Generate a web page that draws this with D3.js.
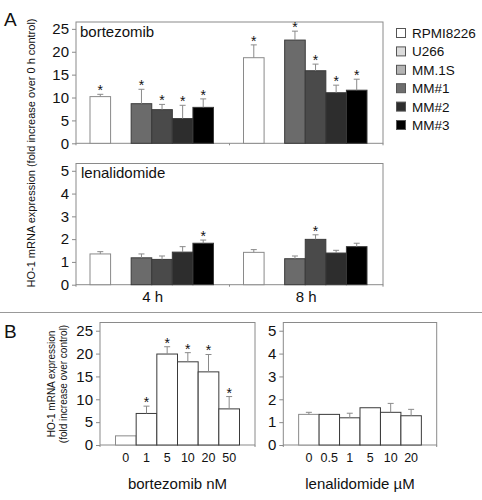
<!DOCTYPE html>
<html><head><meta charset="utf-8">
<script src="https://cdn.jsdelivr.net/npm/d3@7"></script>
<style>
body{margin:0;background:#fff;}
svg{display:block;font-family:"Liberation Sans",Arial,sans-serif;}
</style></head>
<body>
<svg id="chart" width="482" height="500"></svg>
<script>
// ---------- DATA ----------
const series = ["RPMI8226","U266","MM.1S","MM#1","MM#2","MM#3"];
const legendColors = ["#ffffff","#dcdcdc","#b4b4b4","#6e6e6e","#2e2e2e","#000000"];
const barColors = ["#ffffff","#dcdcdc","#6b6b6b","#4a4a4a","#2d2d2d","#000000"];
const timepoints = ["4 h","8 h"];

const bortMean4h = [10.2, null, 8.65, 7.35, 5.4, 7.85];
const bortErr4h  = [0.5, null, 3.15, 1.15, 2.9, 1.85];
const bortSig4h  = [1, 0, 1, 1, 1, 1];
const bortMean8h = [18.7, null, 22.55, 15.85, 11.05, 11.6];
const bortErr8h  = [2.8, null, 1.95, 1.45, 1.65, 2.4];
const bortSig8h  = [1, 0, 1, 1, 1, 1];

const lenMean4h = [1.35, null, 1.18, 1.11, 1.43, 1.82];
const lenErr4h  = [0.1, null, 0.17, 0.15, 0.24, 0.14];
const lenSig4h  = [0, 0, 0, 0, 0, 1];
const lenMean8h = [1.42, null, 1.14, 1.99, 1.39, 1.67];
const lenErr8h  = [0.12, null, 0.12, 0.2, 0.12, 0.15];
const lenSig8h  = [0, 0, 0, 1, 0, 0];

const bortDoses = ["0","1","5","10","20","50"];
const bortDoseMean = [2.0, 6.9, 19.9, 18.2, 16.0, 7.9];
const bortDoseErr  = [0, 1.6, 1.6, 2.0, 3.8, 2.7];
const bortDoseSig  = [0, 1, 1, 1, 1, 1];

const lenDoses = ["0","0.5","1","5","10","20"];
const lenDoseMean = [1.34, 1.34, 1.19, 1.63, 1.43, 1.28];
const lenDoseErr  = [0.09, 0, 0.2, 0, 0.39, 0.28];
const lenDoseSig  = [0, 0, 0, 0, 0, 0];

const ticks25 = [0,5,10,15,20,25];
const ticks5 = [0,1,2,3,4,5];

// ---------- DRAW ----------
const svg = d3.select("#chart");
const GREY = "#8a8a8a";
const TXT = "#111";

function yAxis(g, y, ticks, x, fs){
  const a = g.append("g").attr("transform",`translate(${x},0)`)
    .call(d3.axisLeft(y).tickValues(ticks).tickSize(4).tickPadding(3).tickFormat(d3.format("d")));
  a.select(".domain").remove();
  a.selectAll(".tick line").attr("stroke",GREY);
  a.selectAll(".tick text").attr("fill",TXT).style("font-size",fs+"px").style("font-family","inherit");
}

function box(g, x0, x1, yTop, yBase){
  g.append("rect").attr("x",x0).attr("y",yTop).attr("width",x1-x0).attr("height",yBase-yTop)
    .attr("fill","none").attr("stroke",GREY).attr("stroke-width",1);
}

function bars(g, data, xf, w, y, colors, starSize){
  data.forEach(d=>{
    if(d.v==null) return;
    const x = xf(d);
    g.append("rect").attr("x",x).attr("y",y(d.v)).attr("width",w).attr("height",y(0)-y(d.v))
      .attr("fill",colors[d.i]).attr("stroke",d.i===0||colors===null?GREY:"#3a3a3a").attr("stroke-width",1);
    const cx = x + w/2;
    let top = y(d.v);
    if(d.e>0){
      top = y(d.v+d.e);
      g.append("line").attr("x1",cx).attr("x2",cx).attr("y1",y(d.v)).attr("y2",top).attr("stroke",GREY);
      g.append("line").attr("x1",cx-3).attr("x2",cx+3).attr("y1",top).attr("y2",top).attr("stroke",GREY);
    }
    if(d.s){
      g.append("text").attr("x",cx).attr("y",top+1).attr("text-anchor","middle")
        .style("font-size",starSize+"px").attr("fill",TXT).text("*");
    }
  });
}

// ----- Panel A -----
const AX0 = 76, AX1 = 383;
const xA = d3.scaleBand().domain(timepoints).range([AX0, AX1]);
const xS = d3.scaleBand().domain(series).range([14, xA.bandwidth()-16]);

const yAt = d3.scaleLinear().domain([0,26.5]).range([143.3,22]);
const yAb = d3.scaleLinear().domain([0,5.32]).range([284.7,163.5]);

const gA = svg.append("g");
box(gA, AX0, AX1, yAt.range()[1], yAt(0));
box(gA, AX0, AX1, yAb.range()[1], yAb(0));
yAxis(gA, yAt, ticks25, AX0, 15);
yAxis(gA, yAb, ticks5, AX0, 15);

// bottom ticks at group boundaries
[yAt(0), yAb(0)].forEach(yb=>{
  const bounds = timepoints.map(t=>xA(t)).concat([AX1]);
  bounds.forEach(bx=>gA.append("line").attr("x1",bx).attr("x2",bx).attr("y1",yb).attr("y2",yb+2).attr("stroke",GREY));
});

function groupData(means, errs, sigs){ return series.map((s,i)=>({i, s:sigs[i], v:means[i], e:errs[i]})); }
const bortByTime = [groupData(bortMean4h,bortErr4h,bortSig4h), groupData(bortMean8h,bortErr8h,bortSig8h)];
const lenByTime = [groupData(lenMean4h,lenErr4h,lenSig4h), groupData(lenMean8h,lenErr8h,lenSig8h)];

timepoints.forEach((t,ti)=>{
  bars(gA, bortByTime[ti], d=>xA(t)+xS(series[d.i]), xS.bandwidth(), yAt, barColors, 14);
  bars(gA, lenByTime[ti], d=>xA(t)+xS(series[d.i]), xS.bandwidth(), yAb, barColors, 14);
  gA.append("text").attr("x",xA(t)+xA.bandwidth()/2).attr("y",302).attr("text-anchor","middle")
    .style("font-size","15px").attr("fill",TXT).text(t);
});

gA.append("text").attr("x",80).attr("y",37).style("font-size","15px").attr("fill",TXT).text("bortezomib");
gA.append("text").attr("x",81).attr("y",178).style("font-size","15px").attr("fill",TXT).text("lenalidomide");

gA.append("text").attr("transform","translate(35,153) rotate(-90)").attr("text-anchor","middle")
  .style("font-size","11px").attr("fill",TXT).text("HO-1 mRNA expression (fold increase over 0 h control)");

gA.append("text").attr("x",4).attr("y",26).style("font-size","19px").attr("fill",TXT).text("A");

// legend
const leg = svg.append("g");
series.forEach((s,i)=>{
  const ly = 33 + i*18.4;
  leg.append("rect").attr("x",396.5).attr("y",ly-4.5).attr("width",9).attr("height",9)
    .attr("fill",legendColors[i]).attr("stroke","#555").attr("stroke-width",1);
  leg.append("text").attr("x",412).attr("y",ly+5).style("font-size",  "13.5px").attr("fill",TXT).text(s);
});

// separator
svg.append("line").attr("x1",0).attr("x2",482).attr("y1",312.5).attr("y2",312.5).attr("stroke","#999");

// ----- Panel B -----
svg.append("text").attr("x",4).attr("y",338).style("font-size","19px").attr("fill",TXT).text("B");

function panelB(x0, x1, yMax, ticks, doses, means, errs, sigs, title){
  const g = svg.append("g");
  const x = d3.scaleBand().domain(doses).range([x0,x1]).paddingInner(0).paddingOuter(0.75);
  const y = d3.scaleLinear().domain([0,yMax]).range([445,322.5]);
  box(g, x0, x1, 322.5, 445);
  yAxis(g, y, ticks, x0, 15);
  [x0,x1].forEach(bx=>g.append("line").attr("x1",bx).attr("x2",bx).attr("y1",445).attr("y2",447).attr("stroke",GREY));
  const data = doses.map((d,i)=>({i, dose:d, v:means[i], e:errs[i], s:sigs[i]}));
  bars(g, data, d=>x(d.dose), x.bandwidth(), y, doses.map(()=>"#ffffff"), 14);
  doses.forEach(d=>g.append("text").attr("x",x(d)+x.bandwidth()/2).attr("y",462).attr("text-anchor","middle")
    .style("font-size","12.5px").attr("fill",TXT).text(d));
  g.append("text").attr("x",(x0+x1)/2).attr("y",489).attr("text-anchor","middle")
    .style("font-size","15px").attr("fill",TXT).text(title);
}
panelB(100, 255, 26.8, ticks25, bortDoses, bortDoseMean, bortDoseErr, bortDoseSig, "bortezomib nM");
panelB(283.3, 436.7, 5.36, ticks5, lenDoses, lenDoseMean, lenDoseErr, lenDoseSig, "lenalidomide µM");

svg.append("text").attr("transform","translate(55,384) rotate(-90)").attr("text-anchor","middle")
  .style("font-size","10px").attr("fill",TXT).text("HO-1 mRNA expression");
svg.append("text").attr("transform","translate(67,384) rotate(-90)").attr("text-anchor","middle")
  .style("font-size","10px").attr("fill",TXT).text("(fold increase over control)");
</script>
</body></html>
